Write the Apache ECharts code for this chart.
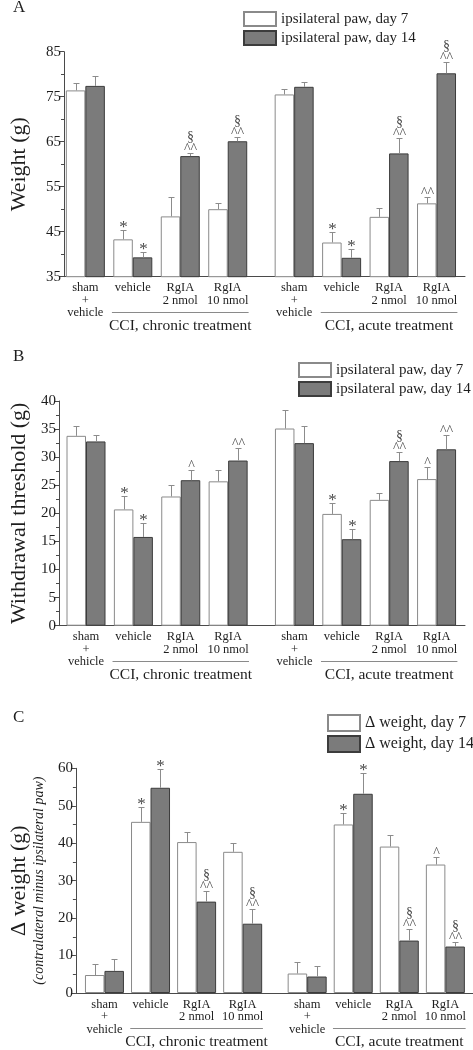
<!DOCTYPE html>
<html><head><meta charset="utf-8">
<script src="https://cdn.jsdelivr.net/npm/echarts@6/dist/echarts.min.js"></script>
<style>html,body{margin:0;padding:0;background:#fff}#c{width:473px;height:1050px}</style>
</head><body><div id="c"></div>
<script>
// ---------- data ----------
const groups = ['sham\n+\nvehicle','vehicle','RgIA\n2 nmol','RgIA\n10 nmol','sham\n+\nvehicle','vehicle','RgIA\n2 nmol','RgIA\n10 nmol'];
const treatments = ['CCI, chronic treatment','CCI, acute treatment'];

const weightDay7      = [76.4, 43.3, 48.4, 50.0, 75.5, 42.6, 48.3, 51.3];
const weightDay7Err   = [1.6, 2.1, 4.4, 1.4, 1.2, 2.3, 1.9, 1.5];
const weightDay14     = [77.4, 39.3, 61.8, 65.1, 77.2, 39.2, 62.4, 80.2];
const weightDay14Err  = [2.3, 1.3, 0.6, 1.0, 1.1, 1.9, 3.4, 2.4];
const weightDay7Sig   = ['', '*', '', '', '', '*', '', '^^'];
const weightDay14Sig  = ['', '*', '§^^', '§^^', '', '*', '§^^', '§^^'];

const thrDay7     = [33.8, 20.7, 23.0, 25.7, 35.1, 19.9, 22.4, 26.1];
const thrDay7Err  = [1.7, 2.4, 2.0, 2.1, 3.3, 1.9, 1.3, 2.2];
const thrDay14    = [32.8, 15.8, 25.9, 29.4, 32.5, 15.4, 29.3, 31.4];
const thrDay14Err = [1.2, 2.4, 1.9, 2.3, 3.1, 1.9, 1.7, 2.5];
const thrDay7Sig  = ['', '*', '', '', '', '*', '', '^'];
const thrDay14Sig = ['', '*', '^', '^^', '', '*', '§^^', '^^'];

const dwDay7      = [4.8, 45.7, 40.3, 37.7, 5.2, 45.0, 39.1, 34.3];
const dwDay7Err   = [2.9, 3.9, 2.7, 2.4, 3.2, 3.1, 3.2, 1.9];
const dwDay14     = [5.9, 54.8, 24.4, 18.5, 4.4, 53.2, 14.0, 12.4];
const dwDay14Err  = [3.3, 4.9, 2.9, 4.0, 2.9, 5.5, 3.0, 1.3];
const dwDay7Sig   = ['', '*', '', '', '', '*', '', '^'];
const dwDay14Sig  = ['', '*', '§^^', '§^^', '', '*', '§^^', '§^^'];

const ticksA = [35, 45, 55, 65, 75, 85];
const ticksB = [0, 5, 10, 15, 20, 25, 30, 35, 40];
const ticksC = [0, 10, 20, 30, 40, 50, 60];

// ---------- layout ----------
const FONT = '"Liberation Serif", "DejaVu Serif", serif';
const TXT = '#1e1e1e';
// group slots on the x scale (acute block separated by an extra gap)
const pos = groups.map((g, i) => i + (i >= 4 ? 0.4 : 0));
const BW = 19.5;

const panels = [
  { letter: 'A', ticks: ticksA, names: ['ipsilateral paw, day 7', 'ipsilateral paw, day 14'],
    d7: weightDay7, e7: weightDay7Err, s7: weightDay7Sig, d14: weightDay14, e14: weightDay14Err, s14: weightDay14Sig,
    grid: { left: 64, top: 51.7, width: 401, height: 225 }, xmin: -0.45, xmax: 8.0,
    yname: 'Weight (g)', nameGap: 34,
    legend: { left: 243, top: 11, itemHeight: 14, fontSize: 15 }, letterY: 8 },
  { letter: 'B', ticks: ticksB, names: ['ipsilateral paw, day 7', 'ipsilateral paw, day 14'],
    d7: thrDay7, e7: thrDay7Err, s7: thrDay7Sig, d14: thrDay14, e14: thrDay14Err, s14: thrDay14Sig,
    grid: { left: 59, top: 401, width: 406, height: 224.7 }, xmin: -0.57, xmax: 8.0,
    yname: 'Withdrawal threshold (g)', nameGap: 29,
    legend: { left: 298, top: 362, itemHeight: 14, fontSize: 15 }, letterY: 357 },
  { letter: 'C', ticks: ticksC, names: ['Δ weight, day 7', 'Δ weight, day 14'],
    d7: dwDay7, e7: dwDay7Err, s7: dwDay7Sig, d14: dwDay14, e14: dwDay14Err, s14: dwDay14Sig,
    grid: { left: 64, top: 768.3, width: 409, height: 224.7 }, xmin: -0.62, xmax: 8.0,
    yname: '{a|Δ weight (g)}\n{b|(contralateral minus ipsilateral paw)}', nameGap: 17,
    legend: { left: 327, top: 714, itemHeight: 16, fontSize: 16 }, letterY: 718 }
];

function labelFor(v) {
  for (let i = 0; i < pos.length; i++) if (Math.abs(pos[i] - v) < 1e-6) return groups[i];
  return '';
}

const chart = echarts.init(document.getElementById('c'), null, { renderer: 'canvas' });

const grid = [], xAxis = [], yAxis = [], series = [], legend = [];
function sigText(t, x, y, size) {
  return { type: 'text', x: x, y: y,
    style: { text: t, fill: '#4a4a4a', font: size + 'px ' + FONT, align: 'center', verticalAlign: 'middle', lineHeight: size } };
}
function errSeries(k, vals, errs, sigs, offset) {
  return {
    type: 'custom', xAxisIndex: k, yAxisIndex: k, z: 5, clip: false, silent: true,
    data: vals.map((v, i) => [pos[i], v, errs[i]]),
    renderItem: function (params, api) {
      const x = api.value(0), v = api.value(1), e = api.value(2);
      const p0 = api.coord([x, v]);
      const p1 = api.coord([x, v + e]);
      const cx = Math.round(p0[0] + offset) + 0.5;
      const cy = Math.round(p1[1]) + 0.5;
      const ch = [
        { type: 'line', shape: { x1: cx, y1: p0[1], x2: cx, y2: cy }, style: { stroke: '#8c8c8c', lineWidth: 1 } },
        { type: 'line', shape: { x1: cx - 3, y1: cy, x2: cx + 3, y2: cy }, style: { stroke: '#8c8c8c', lineWidth: 1 } }
      ];
      const s = sigs[params.dataIndex];
      if (s === '*') {
        ch.push(sigText('*', cx, cy - 3, 17));
      } else if (s) {
        const carets = s.replace('§', '');
        ch.push(sigText(carets, cx, cy - 4, 14));
        if (s.indexOf('§') >= 0) ch.push(sigText('§', cx, cy - 16, 14));
      }
      return { type: 'group', children: ch };
    }
  };
}

panels.forEach((p, k) => {
  grid.push(p.grid);
  xAxis.push({
    gridIndex: k, type: 'value', min: p.xmin, max: p.xmax,
    axisLine: { show: true, onZero: false, lineStyle: { color: '#4a4a4a', width: 1 } },
    axisTick: { show: false }, splitLine: { show: false }, minorTick: { show: false },
    axisLabel: { customValues: pos, formatter: v => labelFor(v), fontFamily: FONT, fontSize: 12.5, lineHeight: 12.5,
      color: TXT, margin: 5, showMinLabel: true, showMaxLabel: true, hideOverlap: false }
  });
  const t = p.ticks;
  yAxis.push({
    gridIndex: k, type: 'value', min: t[0], max: t[t.length - 1], interval: t[1] - t[0],
    axisLine: { show: true, onZero: false, lineStyle: { color: '#4a4a4a', width: 1 } },
    axisTick: { show: true, inside: false, length: 5, lineStyle: { color: '#4a4a4a' } },
    minorTick: { show: true, splitNumber: 2, length: 3, lineStyle: { color: '#4a4a4a' } },
    splitLine: { show: false }, minorSplitLine: { show: false },
    axisLabel: { fontFamily: FONT, fontSize: 15, color: TXT, margin: 3 },
    name: p.yname, nameLocation: 'middle', nameGap: p.nameGap, nameRotate: 90,
    nameTextStyle: { fontFamily: FONT, fontSize: 22, lineHeight: 22, color: TXT,
      rich: { a: { fontFamily: FONT, fontSize: 22, lineHeight: 23, color: TXT },
              b: { fontFamily: FONT, fontSize: 14, fontStyle: 'italic', lineHeight: 16, color: TXT } } }
  });
  series.push({
    type: 'bar', name: p.names[0], xAxisIndex: k, yAxisIndex: k, barWidth: BW, barGap: '0%',
    itemStyle: { color: '#ffffff', borderColor: '#8a8a8a', borderWidth: 1 },
    data: p.d7.map((v, i) => [pos[i], v]), silent: true
  });
  series.push({
    type: 'bar', name: p.names[1], xAxisIndex: k, yAxisIndex: k, barWidth: BW, barGap: '0%',
    itemStyle: { color: '#7b7b7b', borderColor: '#3c3c3c', borderWidth: 1 },
    data: p.d14.map((v, i) => [pos[i], v]), silent: true
  });
  series.push(errSeries(k, p.d7, p.e7, p.s7, -BW / 2));
  series.push(errSeries(k, p.d14, p.e14, p.s14, BW / 2));
  legend.push({
    show: true, orient: 'vertical', left: p.legend.left, top: p.legend.top,
    itemWidth: 32, itemHeight: p.legend.itemHeight, itemGap: 3, selectedMode: false, icon: 'rect',
    padding: 0, data: p.names,
    textStyle: { fontFamily: FONT, fontSize: p.legend.fontSize, color: TXT }
  });
});

chart.setOption({
  backgroundColor: '#ffffff', animation: false,
  grid, xAxis, yAxis, series, legend
});

// group captions and underlines, placed through the axes' own scales
const graphic = [];
panels.forEach((p, k) => {
  graphic.push({ type: 'text', left: 13, top: p.letterY - 9,
    style: { text: p.letter, font: '17px ' + FONT, fill: TXT } });
  const yb = chart.convertToPixel({ yAxisIndex: k }, p.ticks[0]);
  [[1, 3], [5, 7]].forEach((r, j) => {
    const xa = chart.convertToPixel({ xAxisIndex: k }, pos[r[0]] - 0.44);
    const xb = chart.convertToPixel({ xAxisIndex: k }, pos[r[1]] + 0.44);
    graphic.push({ type: 'line', shape: { x1: xa, y1: Math.round(yb + 35) + 0.5, x2: xb, y2: Math.round(yb + 35) + 0.5 },
      style: { stroke: '#8a8a8a', lineWidth: 1 } });
    graphic.push({ type: 'text', x: (xa + xb) / 2, y: yb + 49,
      style: { text: treatments[j], font: '15.5px ' + FONT, fill: TXT, align: 'center', verticalAlign: 'middle' } });
  });
});
chart.setOption({ graphic });
</script>
</body></html>
